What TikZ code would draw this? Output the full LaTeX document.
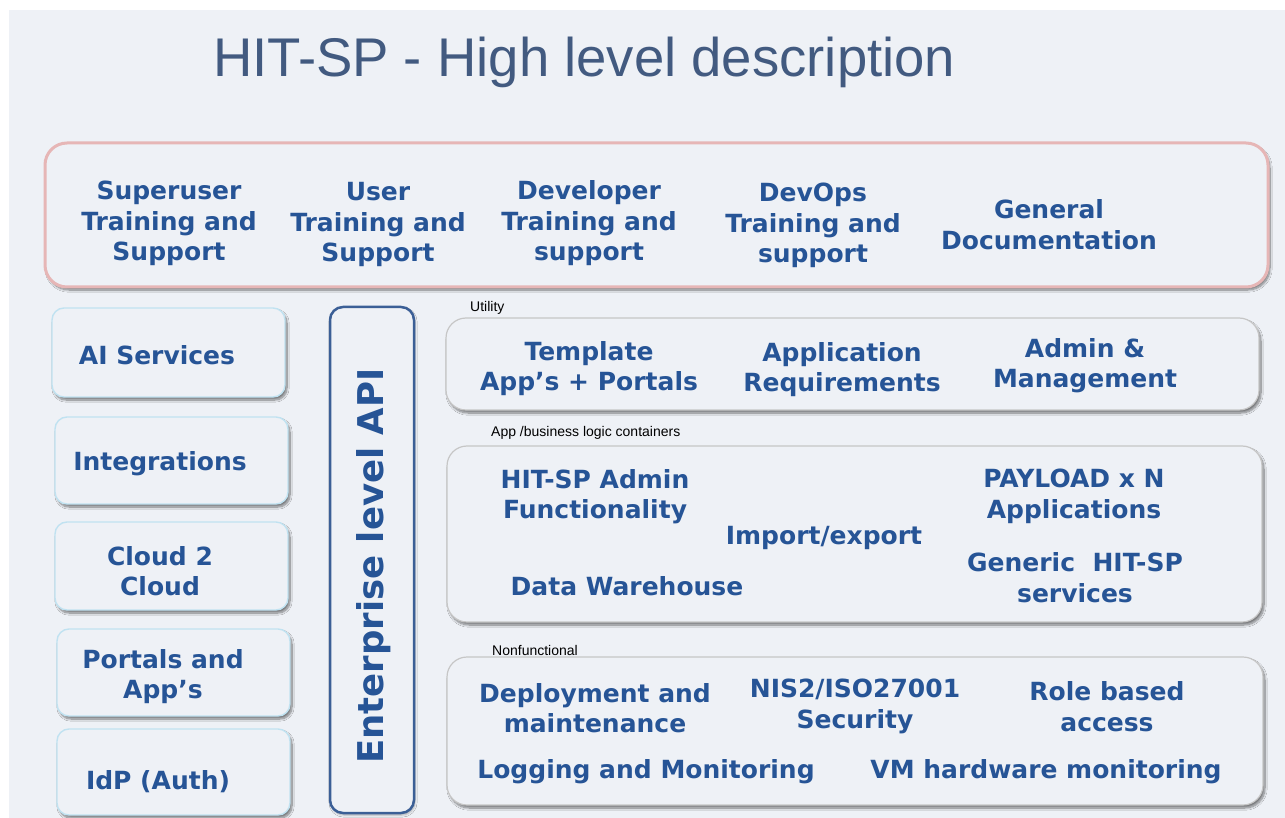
\documentclass[tikz,border=0pt]{standalone}
\usepackage{fontspec}
\setmainfont{DejaVu Sans}
\newfontfamily\titlefont{Liberation Sans}
\usetikzlibrary{shadows.blur}

\definecolor{bg}{RGB}{238,241,246}
\definecolor{txt}{RGB}{38,84,150}
\definecolor{titlecol}{RGB}{66,90,128}
\definecolor{pinkedge}{RGB}{230,182,182}
\definecolor{blueedge}{RGB}{192,226,241}
\definecolor{apiedge}{RGB}{59,95,150}

\tikzset{
  lbl/.style={text=txt, align=center, inner sep=0pt, yshift=-2.5pt,
    font=\bfseries\fontsize{25}{30.5}\selectfont},
  tag/.style={text=black, anchor=west, inner sep=0pt,
    font=\titlefont\fontsize{14}{16}\selectfont},
  panel/.style={rectangle, rounded corners=#1, fill=bg, inner sep=0pt},
  softshadow/.style={blur shadow={shadow xshift=2pt, shadow yshift=-3pt,
    shadow blur steps=10, shadow blur extra rounding=3pt, shadow opacity=50}},
  topbox/.style={panel=22pt, draw=pinkedge, line width=3pt, softshadow},
  sidebox/.style={panel=12pt, draw=blueedge, line width=1.4pt, softshadow},
  layerbox/.style={panel=20pt, draw=gray!45, line width=1.2pt, softshadow},
  apibox/.style={panel=13pt, draw=apiedge, line width=2.5pt,
    blur shadow={shadow xshift=1pt, shadow yshift=-2pt, shadow opacity=30}},
}

\begin{document}
\begin{tikzpicture}[x=1pt,y=-1pt]
% page and background
\fill[white] (0,0) rectangle (1285,818);
\fill[bg] (9,10) rectangle (1285,818);
\useasboundingbox (0,0) rectangle (1285,818);

% title
\node[anchor=base west, inner sep=0pt, text=titlecol,
  font=\titlefont\fontsize{54.5}{60}\selectfont] (title) at (213,77)
  {HIT-SP - High level description};

% training and documentation band
\node[topbox, minimum width=1223pt, minimum height=144pt] (band) at (656.5,215) {};
\node[lbl] (su)  at (169,221) {Superuser\\Training and\\Support};
\node[lbl] (us)  at (378,222) {User\\Training and\\Support};
\node[lbl] (dev) at (589,221) {Developer\\Training and\\support};
\node[lbl] (ops) at (813,223) {DevOps\\Training and\\support};
\node[lbl] (doc) at (1049,222) {General\\Documentation};

% left column of services
\node[sidebox, minimum width=233pt, minimum height=89pt] (aibox)  at (168.5,352.5) {};
\node[sidebox, minimum width=233pt, minimum height=87pt] (intbox) at (171.5,460.5) {};
\node[sidebox, minimum width=233pt, minimum height=88pt] (c2cbox) at (171.5,566) {};
\node[sidebox, minimum width=233pt, minimum height=87pt] (porbox) at (173.5,672.5) {};
\node[sidebox, minimum width=233pt, minimum height=86pt] (idpbox) at (173.5,772) {};
\node[lbl] (ai)  at (157,353) {AI Services};
\node[lbl] (int) at (160,461) {Integrations};
\node[lbl] (c2c) at (160,568.5) {Cloud 2\\Cloud};
\node[lbl] (por) at (163,674) {Portals and\\App’s};
\node[lbl] (idp) at (158,779.5) {IdP (Auth)};

% enterprise API column
\node[apibox, minimum width=84pt, minimum height=506pt] (apibox) at (372,560) {};
\node[lbl, yshift=2.5pt, rotate=90, font=\bfseries\fontsize{35.5}{40}\selectfont] (api) at (374,566)
  {Enterprise level API};

% utility layer
\node[tag] (utag) at (470,308) {Utility};
\node[layerbox, minimum width=813pt, minimum height=92pt] (util) at (852.5,364) {};
\node[lbl] (tpl) at (589,366) {Template\\App’s + Portals};
\node[lbl] (req) at (842,367) {Application\\Requirements};
\node[lbl] (adm) at (1085,363) {Admin \&\\Management};

% application / business logic layer
\node[tag] (atag) at (491,433) {App /business logic containers};
\node[layerbox, minimum width=815pt, minimum height=176pt] (apps) at (854.5,534) {};
\node[lbl] (hadm) at (595,494) {HIT-SP Admin\\Functionality};
\node[lbl] (imp)  at (824,535) {Import/export};
\node[lbl] (pay)  at (1074,494) {PAYLOAD x N\\Applications};
\node[lbl] (gen)  at (1075,575) {Generic\ \ HIT-SP\\services};
\node[lbl] (dw)   at (627,584) {Data Warehouse};

% nonfunctional layer
\node[tag] (ntag) at (492,650) {Nonfunctional};
\node[layerbox, minimum width=816pt, minimum height=148pt] (nonf) at (855,731) {};
\node[lbl] (dep)  at (595,705.5) {Deployment and\\maintenance};
\node[lbl] (sec)  at (855,704) {NIS2/ISO27001\\Security};
\node[lbl] (rba)  at (1107,704) {Role based\\access};
\node[lbl] (log)  at (646,769.5) {Logging and Monitoring};
\node[lbl] (vm)   at (1046,769.5) {VM hardware monitoring};
\end{tikzpicture}
\end{document}
